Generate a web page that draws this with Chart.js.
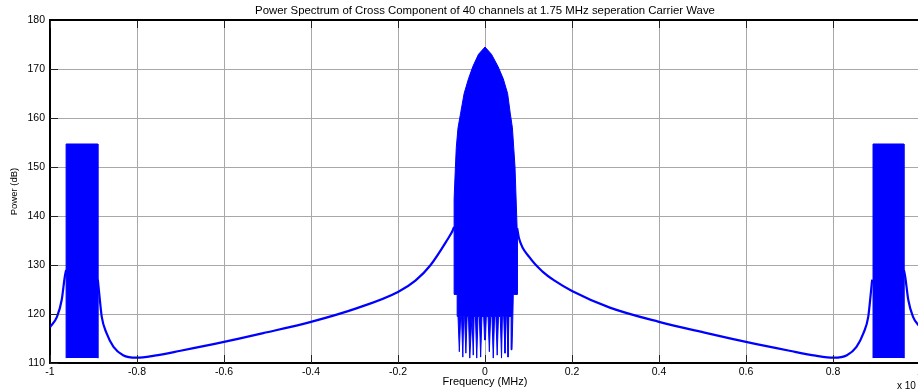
<!DOCTYPE html>
<html>
<head>
<meta charset="utf-8">
<script src="https://cdn.jsdelivr.net/npm/chart.js@4"></script>
<style>
  body { margin: 0; overflow: hidden; background: #fff; }
  #wrap { width: 922px; height: 392px; }
</style>
</head>
<body>
<div id="wrap"><canvas id="myChart" width="922" height="392"></canvas></div>
<script>
// axis ticks
var xTicks = [-1, -0.8, -0.6, -0.4, -0.2, 0, 0.2, 0.4, 0.6, 0.8, 1];
var yTicks = [110, 120, 130, 140, 150, 160, 170, 180];

// smooth part of the spectrum (null = gap under a dense band)
var curveX = [-1, -0.984, -0.973, -0.966, -0.963, -0.93, -0.890, -0.887, -0.881, -0.870, -0.854, -0.832, -0.801, -0.76, -0.7, -0.6, -0.51, -0.4, -0.294, -0.2, -0.16, -0.125, -0.087, -0.074, -0.071,
              0, 0.074, 0.078, 0.103, 0.133, 0.16, 0.2, 0.287, 0.4, 0.51, 0.6, 0.7, 0.76, 0.801, 0.832, 0.854, 0.870, 0.881, 0.887, 0.890, 0.93, 0.963, 0.966, 0.973, 0.984, 1];
var curveY = [117.3, 119.4, 122.9, 127.6, 129, null, 127, 124.3, 119.4, 116.1, 113.3, 111.6, 111.1, 111.5, 112.5, 114.3, 116.1, 118.4, 121.2, 124.5, 126.8, 130, 135.1, 137.1, 137.8,
              null, 137.5, 135.5, 131.5, 128.6, 126.8, 124.7, 121.3, 118.4, 116.1, 114.3, 112.5, 111.5, 111.1, 111.6, 113.3, 116.1, 119.4, 124.3, 127, null, 129, 127.6, 122.9, 119.4, 117.3];

// central dense band: upper envelope (left to right)
var centerTopX = [-0.071, -0.071, -0.068, -0.066, -0.062, -0.056, -0.048, -0.038, -0.028, -0.015, 0, 0.015, 0.030, 0.042, 0.052, 0.058, 0.063, 0.066, 0.069, 0.074, 0.074];
var centerTopY = [124, 143.5, 150, 154, 158, 161, 165, 168, 170.5, 173, 174.5, 173, 170.5, 168, 165, 161, 158, 154, 150, 137, 124];
// central dense band: lower edge with spikes (right to left)
var centerLowX = [0.065, 0.064, 0.062, 0.060, 0.055, 0.053, 0.050, 0.048, 0.046, 0.043, 0.040, 0.038, 0.035, 0.031, 0.028, 0.025, 0.022, 0.019, 0.016, 0.013, 0.010, 0.007,
                  0.003, 0.001, -0.001, -0.003, -0.007, -0.010, -0.013, -0.016, -0.019, -0.022, -0.025, -0.027, -0.030, -0.032, -0.035, -0.038, -0.041, -0.044, -0.047,
                  -0.049, -0.051, -0.054, -0.056, -0.059, -0.062, -0.063, -0.064, -0.071];
var centerLowY = [124, 119.5, 112.7, 119.5, 119.5, 111.2, 119.5, 119.5, 112, 119.5, 119.5, 111, 119.5, 119.5, 111.6, 119.5, 119.5, 111, 119.5, 119.5, 112.3, 119.5,
                  119.5, 114.7, 114.7, 119.5, 119.5, 111.2, 119.5, 119.5, 111, 119.5, 119.5, 111.6, 119.5, 119.5, 111, 119.5, 119.5, 112, 119.5,
                  119.5, 111.2, 119.5, 119.5, 112.3, 119.5, 119.5, 124, 124];

// side dense bands
var leftBandX = [-0.963, -0.963, -0.890, -0.890];
var rightBandX = [0.892, 0.892, 0.963, 0.963];
var bandY = [111, 154.7, 154.7, 111];

function pts(xs, ys) {
    var out = [];
    for (var i = 0; i < xs.length; i++) out.push({x: xs[i], y: ys[i]});
    return out;
}

var blue = '#0000ff';
var fontFam = '"Liberation Sans", Arial, sans-serif';
var centerPoly = pts(centerTopX, centerTopY).concat(pts(centerLowX, centerLowY));

var extras = {
    id: 'extras',
    afterDraw: function (chart) {
        var ctx = chart.ctx, a = chart.chartArea;
        var xs = chart.scales.x, ys = chart.scales.y;
        ctx.save();
        ctx.strokeStyle = '#222';
        ctx.lineWidth = 1;
        ctx.beginPath();
        xTicks.forEach(function (v) {
            var p = Math.round(xs.getPixelForValue(v)) + 0.5;
            ctx.moveTo(p, a.bottom); ctx.lineTo(p, a.bottom - 8);
            ctx.moveTo(p, a.top); ctx.lineTo(p, a.top + 8);
        });
        yTicks.forEach(function (v) {
            var p = Math.round(ys.getPixelForValue(v)) + 0.5;
            ctx.moveTo(a.left, p); ctx.lineTo(a.left + 8, p);
        });
        ctx.stroke();
        ctx.strokeStyle = '#000';
        ctx.lineWidth = 2;
        ctx.beginPath();
        ctx.moveTo(a.left, a.top); ctx.lineTo(a.right + 4, a.top);
        ctx.stroke();
        ctx.fillStyle = '#000';
        ctx.font = '10px ' + fontFam;
        ctx.textBaseline = 'middle';
        ctx.fillText('x 10', 897, 386);
        ctx.restore();
    }
};

var ctx = document.getElementById('myChart').getContext('2d');
var myChart = new Chart(ctx, {
    type: 'line',
    data: {
        datasets: [{
            data: pts(curveX, curveY),
            borderColor: blue,
            borderWidth: 2.2,
            pointRadius: 0,
            fill: false,
            spanGaps: false,
            cubicInterpolationMode: 'monotone'
        }, {
            data: centerPoly,
            borderColor: blue,
            backgroundColor: blue,
            borderWidth: 1,
            pointRadius: 0,
            fill: 'shape'
        }, {
            data: pts(leftBandX, bandY),
            borderColor: blue,
            backgroundColor: blue,
            borderWidth: 1,
            pointRadius: 0,
            fill: 'shape'
        }, {
            data: pts(rightBandX, bandY),
            borderColor: blue,
            backgroundColor: blue,
            borderWidth: 1,
            pointRadius: 0,
            fill: 'shape'
        }]
    },
    options: {
        responsive: false,
        animation: false,
        devicePixelRatio: 1,
        layout: { padding: { top: 0, right: 2, left: 0, bottom: 0 } },
        plugins: {
            legend: { display: false },
            tooltip: { enabled: false },
            title: {
                display: true,
                fullSize: false,
                text: 'Power Spectrum of Cross Component of 40 channels at 1.75 MHz seperation Carrier Wave',
                color: '#000',
                font: { family: fontFam, size: 11.4, weight: 'normal', lineHeight: 1.1 },
                padding: { top: 5, bottom: 2.5 }
            }
        },
        scales: {
            x: {
                type: 'linear',
                min: -1,
                max: 1,
                afterBuildTicks: function (s) { s.ticks = xTicks.map(function (v) { return {value: v}; }); },
                afterFit: function (s) { s.height = 29; s.paddingLeft = 0; s.paddingRight = 0; },
                ticks: {
                    color: '#000',
                    padding: 3,
                    maxRotation: 0,
                    autoSkip: false,
                    font: { family: fontFam, size: 10.5 },
                    callback: function (v) { return String(Number(v.toFixed(1))); }
                },
                grid: { color: '#a8a8a8', lineWidth: 1, drawTicks: false },
                border: { color: '#000', width: 2 },
                title: {
                    display: true,
                    text: 'Frequency (MHz)',
                    color: '#000',
                    font: { family: fontFam, size: 11 },
                    padding: { top: 3.5, bottom: 3.5 }
                }
            },
            y: {
                min: 110,
                max: 180,
                afterBuildTicks: function (s) { s.ticks = yTicks.map(function (v) { return {value: v}; }); },
                afterFit: function (s) { s.width = 50; s.paddingTop = 0; s.paddingBottom = 0; },
                ticks: {
                    color: '#000',
                    padding: 5,
                    font: { family: fontFam, size: 10.5 }
                },
                grid: { color: '#a8a8a8', lineWidth: 1, drawTicks: false },
                border: { color: '#000', width: 2 },
                title: {
                    display: true,
                    text: 'Power (dB)',
                    color: '#000',
                    font: { family: fontFam, size: 9.5 },
                    padding: { top: 9, bottom: 9 }
                }
            }
        }
    },
    plugins: [extras]
});
</script>
</body>
</html>
